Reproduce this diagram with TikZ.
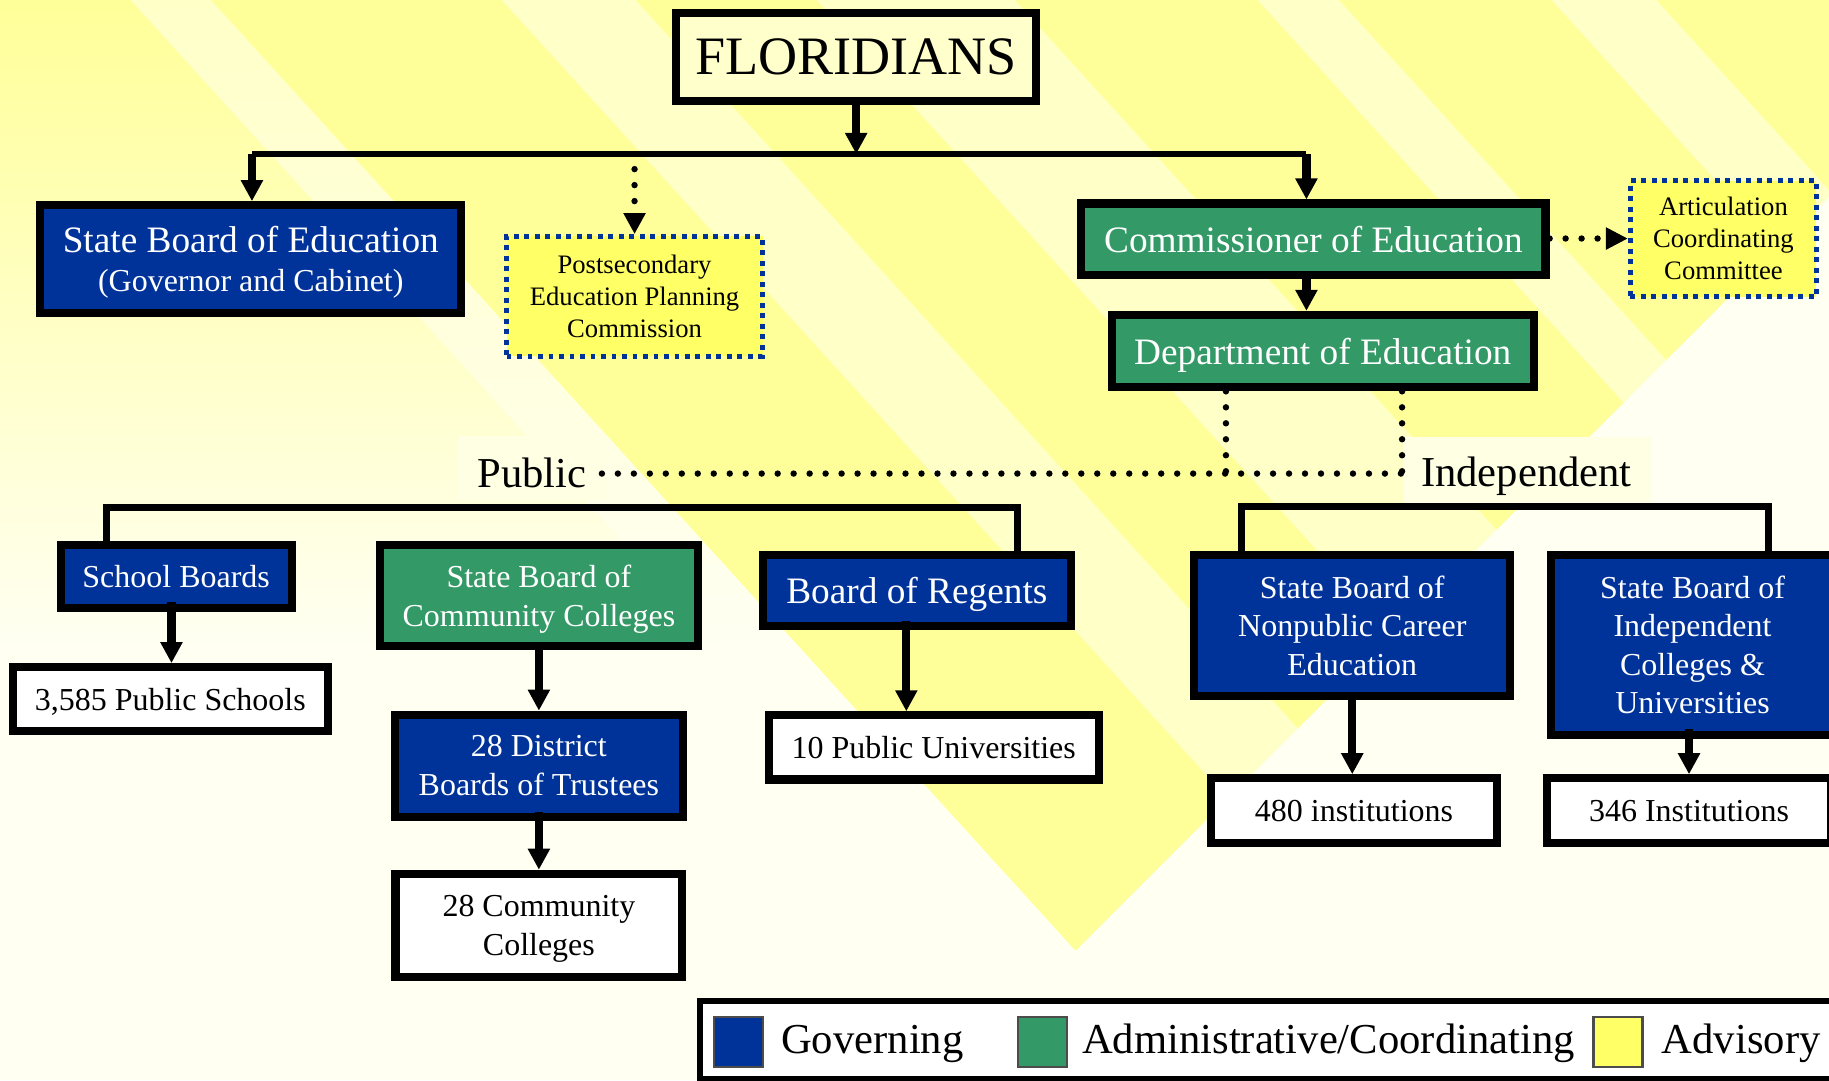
\documentclass[tikz,border=0pt]{standalone}
\usepackage{fontspec}
\setmainfont{Liberation Serif}
\usetikzlibrary{arrows.meta}

\definecolor{govblue}{HTML}{003399}
\definecolor{admgreen}{HTML}{339966}
\definecolor{advyellow}{HTML}{FFFF66}
\definecolor{florfill}{HTML}{FFFFCC}
\definecolor{bgstrong}{HTML}{FFFF99}
\definecolor{bglight}{HTML}{FFFFC8}
\definecolor{bgcream}{HTML}{FFFFF2}
\definecolor{labelbg}{HTML}{FFFFE4}

\newcommand{\fstitle}{\fontsize{13.2pt}{15.8pt}\selectfont}
\newcommand{\fsbig}{\fontsize{9.1pt}{10.9pt}\selectfont}
\newcommand{\fssub}{\fontsize{7.8pt}{9.4pt}\selectfont}
\newcommand{\fssmall}{\fontsize{6.5pt}{7.8pt}\selectfont}
\newcommand{\fslabel}{\fontsize{10.4pt}{12.5pt}\selectfont}

\pgfdeclareverticalshading{bgfade}{100bp}{color(0bp)=(bgcream); color(25bp)=(bgcream); color(45bp)=(bgcream); color(59bp)=(bglight); color(75bp)=(bgstrong); color(100bp)=(bgstrong)}
\pgfdeclareverticalshading{bgfadelight}{100bp}{color(0bp)=(bgcream); color(25bp)=(bgcream); color(45bp)=(bgcream); color(75bp)=(bglight); color(100bp)=(bglight)}

\tikzset{
  box/.style={draw=black, line width=0.7mm, align=center, inner sep=0pt, font=\fssub},
  topbox/.style={box, fill=florfill, font=\fstitle},
  govbox/.style={box, fill=govblue, text=white},
  admbox/.style={box, fill=admgreen, text=white},
  instbox/.style={box, fill=white},
  advbox/.style={draw=govblue, line width=0.42mm, dash pattern=on 0.42mm off 0.48mm,
    fill=advyellow, align=center, inner sep=0pt, font=\fssmall},
  nodepth/.style={text depth=0pt},
  link/.style={line width=0.7mm, -{Triangle[length=1.8mm,width=1.8mm]}},
  bar/.style={line width=0.55mm},
  bracket/.style={line width=0.6mm},
  dots/.style={line width=0.55mm, dash pattern=on 0pt off 1.37mm, line cap=round},
  legkey/.style={draw=black!70, line width=0.2mm, minimum width=4.2mm, minimum height=4.3mm, inner sep=0pt}
}

\begin{document}
\begin{tikzpicture}[x=0.1mm,y=-0.1mm]
    \useasboundingbox (0,0) rectangle (1568,926);
    \clip (0,0) rectangle (1568,926);

    % Background stripes
    \fill[bgcream] (0,0) rectangle (1568,926);
    \begin{scope}
        \clip (0,0) -- (1568,0) -- (1568,169) -- (811,926) -- (0,926) -- cycle;
        \fill[bglight] (181,0) -- (1568,0) -- (1568,926) -- (1023,926) -- cycle;
        \shade[shading=bgfade] (0,0) -- (181,0) -- (1023,926) -- (0,926) -- cycle;
        \shade[shading=bgfadelight] (112,0) -- (181,0) -- (1023,926) -- (954,926) -- cycle;
        \foreach \a/\b in {181/430, 545/700, 870/1078, 1148/1330, 1420/1700}
            \fill[bgstrong] (\a,0) -- (\b,0) -- ++(842,926) -- (\a+842,926) -- cycle;
    \end{scope}
    \fill[labelbg] (393,374) rectangle (520,429);
    \fill[labelbg] (1203,375) rectangle (1415,431);

    % Top of the chart
    \node[topbox, minimum width=30.9mm, minimum height=7.5mm] (flor) at (734,49) {FLORIDIANS};
    \node[govbox, nodepth, minimum width=36.1mm, minimum height=9.2mm] (sbe) at (215,222)
        {\fsbig State Board of Education\\\fssub (Governor and Cabinet)};
    \node[advbox, minimum width=21.95mm, minimum height=10.25mm] (pepc) at (544,254)
        {Postsecondary\\Education Planning\\Commission};
    \node[admbox, minimum width=39.8mm, minimum height=6.1mm, font=\fsbig] (comm) at (1126,205) {Commissioner of Education};
    \node[admbox, nodepth, minimum width=36.2mm, minimum height=6.2mm, font=\fsbig] (dept) at (1134,301) {Department of Education};
    \node[advbox, minimum width=15.95mm, minimum height=9.95mm] (acc) at (1477.5,204.5)
        {Articulation\\Coordinating\\Committee};

    % Sector labels
    \node[anchor=base, font=\fslabel, inner sep=0pt] (pub) at (456,418) {Public};
    \node[anchor=base, font=\fslabel, inner sep=0pt] (ind) at (1308.6,417.5) {Independent};

    % Public boards
    \node[govbox, minimum width=19.8mm, minimum height=5.4mm] (sb) at (151,494) {School Boards};
    \node[instbox, nodepth, minimum width=27mm, minimum height=5.5mm] (ps) at (146,599.5) {3,585 Public Schools};
    \node[admbox, nodepth, minimum width=27.3mm, minimum height=8.7mm] (sbcc) at (462,510.6) {State Board of\\Community Colleges};
    \node[govbox, minimum width=24.7mm, minimum height=8.75mm] (dbt) at (462,656.5) {28 District\\Boards of Trustees};
    \node[instbox, nodepth, minimum width=24.6mm, minimum height=8.86mm] (cc) at (462,793.4) {28 Community\\Colleges};
    \node[govbox, nodepth, minimum width=26.4mm, minimum height=6.1mm, font=\fsbig] (bor) at (786,506) {Board of Regents};
    \node[instbox, minimum width=28.3mm, minimum height=5.5mm] (pu) at (800.5,640.8) {10 Public Universities};

    % Independent boards
    \node[govbox, minimum width=27.1mm, minimum height=12.1mm] (np) at (1159.3,536.3) {State Board of\\Nonpublic Career\\Education};
    \node[govbox, minimum width=24.3mm, minimum height=15.4mm] (ic) at (1451,552.8) {State Board of\\Independent\\Colleges \&\\Universities};
    \node[instbox, minimum width=24.5mm, minimum height=5.55mm] (i480) at (1160.8,695) {480 institutions};
    \node[instbox, minimum width=24.4mm, minimum height=5.55mm] (i346) at (1448,695) {346 Institutions};

    % Connectors from the top
    \coordinate (barL) at (216,132);
    \coordinate (barR) at (1120,132);
    \coordinate (pepcTop) at (544,145);
    \draw[bar] (barL) -- (barR);
    \draw[link] (flor.south) -- (flor.south |- barL);
    \draw[link] (barL) -- (barL |- sbe.north);
    \draw[link] (barR) -- (barR |- comm.north);
    \draw[link] (barR |- comm.south) -- (barR |- dept.north);
    \draw[dots, -{Triangle[length=1.8mm,width=1.8mm]}] (pepcTop) -- (pepc.north);
    \draw[dots, -{Triangle[length=1.9mm,width=1.8mm]}] (acc.west -| comm.east) -- (acc.west);

    % Dotted split into public and independent
    \coordinate (pubEnd) at (516,406);
    \coordinate (deptL) at (1051,406);
    \coordinate (indEnd) at (1202,406);
    \draw[dots] (deptL |- dept.south) -- (deptL);
    \draw[dots] (indEnd |- dept.south) -- (indEnd);
    \draw[dots] (pubEnd) -- (indEnd);

    % Brackets
    \coordinate (pubBrL) at (91.5,435);
    \coordinate (pubBrR) at (872.5,435);
    \coordinate (indBrL) at (1064.6,434);
    \coordinate (indBrR) at (1516.5,434);
    \draw[bracket] (pubBrL |- sb.north) -- (pubBrL) -- (pubBrR) -- (pubBrR |- bor.north);
    \draw[bracket] (indBrL |- np.north) -- (indBrL) -- (indBrR) -- (indBrR |- ic.north);

    % Boards to institutions
    \coordinate (sbOut) at ([xshift=-0.4mm,yshift=0.8mm]sb.south);
    \coordinate (dbtOut) at ([yshift=0.8mm]dbt.south);
    \coordinate (borOut) at ([xshift=-0.9mm,yshift=0.8mm]bor.south);
    \coordinate (icOut) at ([xshift=-0.3mm,yshift=0.8mm]ic.south);
    \draw[link] (sbOut) -- (sbOut |- ps.north);
    \draw[link] (sbcc.south) -- (dbt.north);
    \draw[link] (dbtOut) -- (dbtOut |- cc.north);
    \draw[link] (borOut) -- (borOut |- pu.north);
    \draw[link] (np.south) -- (np.south |- i480.north);
    \draw[link] (icOut) -- (icOut |- i346.north);

    % Legend
    \draw[line width=0.5mm, fill=white] (600,858) rectangle (1600,925);
    \foreach \col/\kx/\tx/\lab [count=\i] in {govblue/633/669/Governing, admgreen/893.5/927/{Administrative/Coordinating}, advyellow/1387/1424/Advisory} {
        \node[legkey, fill=\col] (key\i) at (\kx,893.5) {};
        \node[anchor=base west, font=\fslabel, inner sep=0pt] (leg\i) at (\tx,903) {\lab};
    }
\end{tikzpicture}
\end{document}
